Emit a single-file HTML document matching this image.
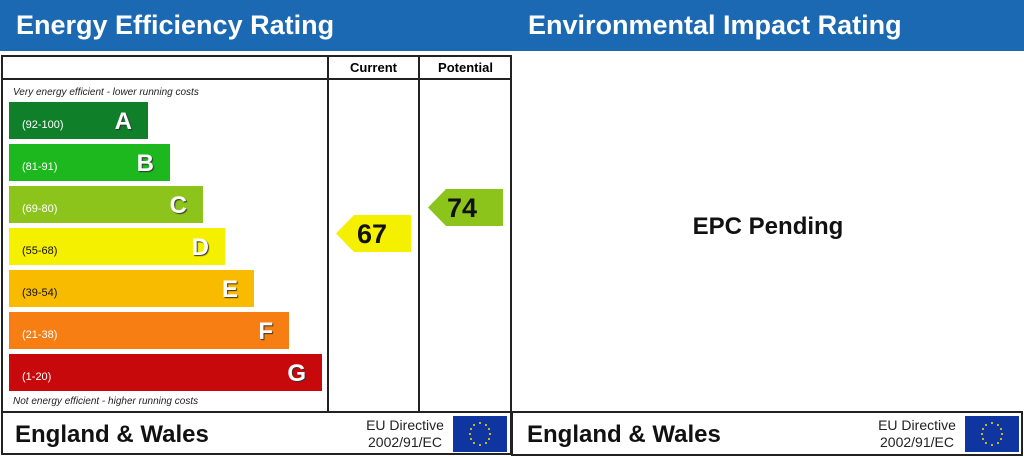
<!DOCTYPE html>
<html><head><meta charset="utf-8"><style>
*{margin:0;padding:0;box-sizing:border-box}
body{width:1024px;height:457px;background:#fff;position:relative;overflow:hidden;font-family:"Liberation Sans",Arial,sans-serif}
.a{position:absolute}
.hdr{background:#1b68b3;color:#fff;font-weight:bold;font-size:27px;height:51px;top:0;line-height:50px}
.ln{background:#222}
.bar{position:absolute;left:9px;height:37px}
.bar .r{position:absolute;left:13px;top:17px;font-size:11px;color:#fff}
.bar .l{position:absolute;right:16px;top:6px;font-size:24px;font-weight:bold;color:#fff;text-shadow:1px 1px 1px #333}
.it{font-style:italic;font-size:10px;color:#222}
.foot{font-size:24px;font-weight:bold;color:#111}
.eu{font-size:14px;color:#222;text-align:center;line-height:17px}
.flag{background:#0f36a0;width:54px;height:36px}
.arr{position:absolute;height:37px;font-weight:bold;font-size:27px;line-height:38px;color:#111;clip-path:polygon(0 50%,24% 0,100% 0,100% 100%,24% 100%)}
</style></head><body>
<div class="a hdr" style="left:0;width:512px;padding-left:16px">Energy Efficiency Rating</div>
<div class="a hdr" style="left:512px;width:512px;padding-left:16px">Environmental Impact Rating</div>

<div class="a" style="left:1px;top:55px;width:511px;height:400px;border:2px solid #222"></div>
<div class="a ln" style="left:1px;top:78px;width:511px;height:2px"></div>
<div class="a ln" style="left:1px;top:411px;width:1022px;height:2px"></div>
<div class="a ln" style="left:327px;top:55px;width:2px;height:358px"></div>
<div class="a ln" style="left:418px;top:55px;width:2px;height:358px"></div>
<div class="a" style="left:511px;top:411px;width:512px;height:45px;border:2px solid #222"></div>

<div class="a" style="left:329px;top:60px;width:89px;text-align:center;font-weight:bold;font-size:13px">Current</div>
<div class="a" style="left:420px;top:60px;width:91px;text-align:center;font-weight:bold;font-size:13px">Potential</div>

<div class="a it" style="left:13px;top:87px">Very energy efficient - lower running costs</div>
<div class="a it" style="left:13px;top:396px">Not energy efficient - higher running costs</div>

<div class="bar" style="top:102px;width:139px;background:#0f7f2a"><span class="r">(92-100)</span><span class="l">A</span></div>
<div class="bar" style="top:144px;width:161px;background:#1cb81d"><span class="r">(81-91)</span><span class="l">B</span></div>
<div class="bar" style="top:186px;width:194px;background:#8dc41b"><span class="r">(69-80)</span><span class="l">C</span></div>
<div class="bar" style="top:228px;width:216px;background:#f4f000"><span class="r" style="color:#111">(55-68)</span><span class="l">D</span></div>
<div class="bar" style="top:270px;width:245px;background:#f9bb00"><span class="r" style="color:#111">(39-54)</span><span class="l">E</span></div>
<div class="bar" style="top:312px;width:280px;background:#f77e12"><span class="r">(21-38)</span><span class="l">F</span></div>
<div class="bar" style="top:354px;width:313px;background:#c8090c"><span class="r">(1-20)</span><span class="l">G</span></div>

<div class="arr" style="left:336px;top:215px;width:75px;background:#f4f000;padding-left:21px">67</div>
<div class="arr" style="left:428px;top:189px;width:75px;background:#8dc41b;padding-left:19px">74</div>

<div class="a" style="left:512px;top:213px;width:512px;text-align:center;font-weight:bold;font-size:24px;color:#111">EPC Pending</div>

<div class="a foot" style="left:15px;top:421px">England &amp; Wales</div>
<div class="a eu" style="left:360px;top:417px;width:90px">EU Directive<br>2002/91/EC</div>
<div class="a flag" style="left:453px;top:416px"></div>
<div class="a foot" style="left:527px;top:421px">England &amp; Wales</div>
<div class="a eu" style="left:872px;top:417px;width:90px">EU Directive<br>2002/91/EC</div>
<div class="a flag" style="left:965px;top:416px"></div>
<svg class="a" style="left:453px;top:416px" width="54" height="36"><g fill="#ffdd00"><circle cx="27" cy="7" r="1"/><circle cx="33" cy="9" r="1"/><circle cx="36" cy="13" r="1"/><circle cx="37" cy="18" r="1"/><circle cx="36" cy="23" r="1"/><circle cx="33" cy="27" r="1"/><circle cx="27" cy="29" r="1"/><circle cx="21" cy="27" r="1"/><circle cx="18" cy="23" r="1"/><circle cx="17" cy="18" r="1"/><circle cx="18" cy="13" r="1"/><circle cx="21" cy="9" r="1"/></g></svg>
<svg class="a" style="left:965px;top:416px" width="54" height="36"><g fill="#ffdd00"><circle cx="27" cy="7" r="1"/><circle cx="33" cy="9" r="1"/><circle cx="36" cy="13" r="1"/><circle cx="37" cy="18" r="1"/><circle cx="36" cy="23" r="1"/><circle cx="33" cy="27" r="1"/><circle cx="27" cy="29" r="1"/><circle cx="21" cy="27" r="1"/><circle cx="18" cy="23" r="1"/><circle cx="17" cy="18" r="1"/><circle cx="18" cy="13" r="1"/><circle cx="21" cy="9" r="1"/></g></svg>
</body></html>
